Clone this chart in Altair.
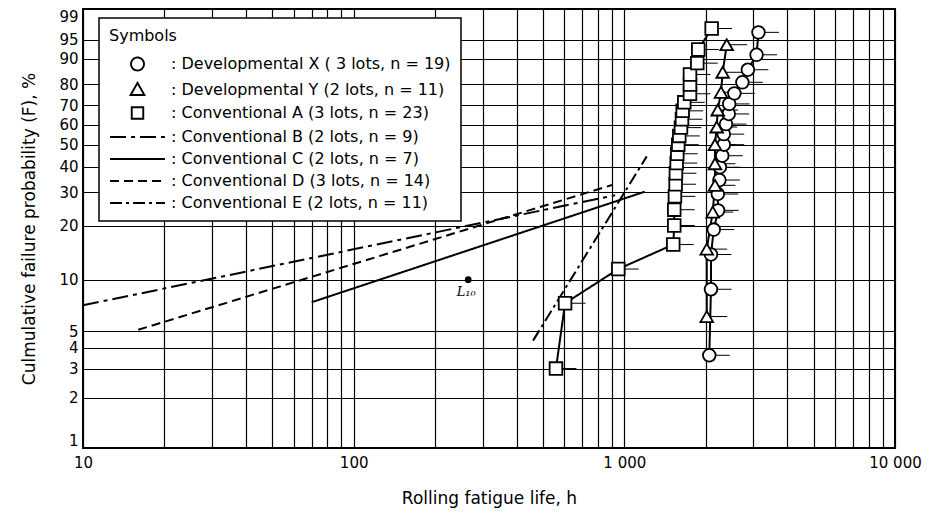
import numpy as np
import pandas as pd
import altair as alt

# ---------------- data ----------------
series_names = [
    "Developmental X ( 3 lots, n = 19)",
    "Developmental Y (2 lots, n = 11)",
    "Conventional A (3 lots, n = 23)",
    "Conventional B (2 lots, n = 9)",
    "Conventional C (2 lots, n = 7)",
    "Conventional D (3 lots, n = 14)",
    "Conventional E (2 lots, n = 11)",
]
point_names = series_names[:3]

# Developmental X (circles)
dev_x_life = [2060, 2090, 2090, 2140, 2220, 2215, 2245, 2255, 2300, 2330, 2330,
              2375, 2430, 2440, 2550, 2730, 2860, 3080, 3130]
dev_x_F = [3.6, 8.8, 13.9, 19.1, 24.2, 29.4, 34.5, 39.7, 44.8, 50.0, 55.2,
           60.3, 65.5, 70.6, 75.8, 80.9, 86.1, 91.2, 96.4]

# Developmental Y (triangles)
dev_y_life = [2016, 2016, 2121, 2162, 2162, 2162, 2194, 2213, 2276, 2309, 2389]
dev_y_F = [6.1, 14.9, 23.7, 32.5, 41.2, 50.0, 58.8, 67.5, 76.3, 85.1, 93.9]

# Conventional A (squares)
conv_a_life = [559, 604, 950, 1516, 1529, 1529, 1538, 1547, 1551, 1561, 1569, 1582,
               1596, 1619, 1633, 1643, 1665, 1748, 1748, 1748, 1860, 1876, 2102]
conv_a_F = [3.0, 7.3, 11.5, 15.8, 20.1, 24.4, 28.6, 32.9, 37.2, 41.5, 45.7, 50.0,
            54.3, 58.5, 62.8, 67.1, 71.4, 75.6, 79.9, 84.2, 88.5, 92.7, 97.0]

# Fitted Weibull lines (end points)
conv_b_life = [10, 925]
conv_b_F = [7.1, 29.0]
conv_c_life = [70, 1190]
conv_c_F = [7.4, 30.2]
conv_d_life = [16, 900]
conv_d_F = [5.1, 32.6]
conv_e_life = [460, 1210]
conv_e_F = [4.4, 44.5]

# L10 marker
l10_life = [265]
l10_F = [10]

# axis ticks
x_tick_values = [10, 20, 30, 40, 50, 60, 70, 80, 90,
                 100, 200, 300, 400, 500, 600, 700, 800, 900,
                 1000, 2000, 3000, 4000, 5000, 6000, 7000, 8000, 9000, 10000]
x_tick_labels = {10: "10", 100: "100", 1000: "1 000", 10000: "10 000"}
y_tick_percent = [1, 2, 3, 4, 5, 10, 20, 30, 40, 50, 60, 70, 80, 90, 95, 99]

# ---------------- styling ----------------
plot_shapes = ["circle", "triangle-up", "square"]
POINT_SIZE = 160
dash_range = [[1, 0], [1, 0], [1, 0], [16, 5, 4, 5], [1, 0], [9, 5], [12, 4, 3, 4]]

# legend sample symbols as paths (1 unit = 9 px at symbol size 324)
legend_paths = [
    "M0.72,0C0.72,0.4,0.4,0.72,0,0.72C-0.4,0.72,-0.72,0.4,-0.72,0"
    "C-0.72,-0.4,-0.4,-0.72,0,-0.72C0.4,-0.72,0.72,-0.4,0.72,0Z",
    "M0,-0.79L0.76,0.55L-0.76,0.55Z",
    "M-0.64,-0.64L0.64,-0.64L0.64,0.64L-0.64,0.64Z",
]
line_path = "M-3.05,0L3.05,0"
LEGEND_SYMBOL_SIZE = 324

FONT = "DejaVu Sans"

# ---------------- tables ----------------
def frame(name, life, F):
    return pd.DataFrame({"series": name, "h": life, "F": F})

points_df = pd.concat([
    frame(series_names[0], dev_x_life, dev_x_F),
    frame(series_names[1], dev_y_life, dev_y_F),
    frame(series_names[2], conv_a_life, conv_a_F),
], ignore_index=True)

lines_df = pd.concat([
    points_df,
    frame(series_names[3], conv_b_life, conv_b_F),
    frame(series_names[4], conv_c_life, conv_c_F),
    frame(series_names[5], conv_d_life, conv_d_F),
    frame(series_names[6], conv_e_life, conv_e_F),
], ignore_index=True)

l10_df = pd.DataFrame({"h": l10_life, "F": l10_F, "label": ["L\u2081\u2080"]})

weibull = "log(-log(1 - datum.F / 100))"
y_tick_values = [float(np.log(-np.log(1 - p / 100.0))) for p in y_tick_percent]
y_domain = [y_tick_values[0], y_tick_values[-1]]

x_label_expr = " : ".join(
    f"datum.value == {v} ? '{lab}'" for v, lab in x_tick_labels.items()) + " : ''"

# per-entry legend symbol: marker shape for X, Y, A; line sample for B..E
shape_expr = "".join(
    f"datum.value === '{n}' ? '{p}' : " for n, p in zip(point_names, legend_paths)
) + f"'{line_path}'"

x_scale = alt.Scale(type="log", domain=[10, 10000], nice=False)
y_scale = alt.Scale(domain=y_domain, nice=False, zero=False)

x_axis = alt.Axis(values=x_tick_values, tickCount=len(x_tick_values),
                  labelExpr=x_label_expr,
                  title="Rolling fatigue life, h", grid=True, ticks=False,
                  labelPadding=7, titlePadding=20, labelFlush=False,
                  labelOverlap=False)
y_axis = alt.Axis(values=y_tick_values, tickCount=len(y_tick_values),
                  labelExpr="format(100 * (1 - exp(-exp(datum.value))), '.0f')",
                  title="Culmulative failure probability (F), %", grid=True,
                  ticks=False, labelPadding=5, titlePadding=20, labelFlush=True,
                  labelOverlap=False)

legend = alt.Legend(
    title="Symbols", orient="none", legendX=16, legendY=9, direction="vertical",
    columns=1, labelExpr="': ' + datum.label", padding=10,
    strokeColor="black", fillColor="white",
    symbolType=alt.ExprRef(expr=shape_expr), symbolSize=LEGEND_SYMBOL_SIZE,
    symbolOffset=18.5, labelOffset=23.5, rowPadding=4,
    symbolStrokeColor="black", symbolFillColor="white", symbolStrokeWidth=1.9,
    symbolOpacity=1,
)

X = alt.X("h:Q", scale=x_scale, axis=x_axis)
Y = alt.Y("W:Q", scale=y_scale, axis=y_axis)

ticks = alt.Chart(points_df).transform_calculate(
    W=weibull, h2="datum.h * 1.19"
).mark_rule(color="black", strokeWidth=1).encode(
    x=X, x2="h2:Q", y=Y
)

lines = alt.Chart(lines_df).transform_calculate(W=weibull).mark_line(
    color="black", strokeWidth=2
).encode(
    x=X, y=Y,
    strokeDash=alt.StrokeDash("series:N",
                              scale=alt.Scale(domain=series_names, range=dash_range),
                              legend=legend),
    order="F:Q",
)

points = alt.Chart(points_df).transform_calculate(W=weibull).mark_point(
    filled=True, fill="white", stroke="black", strokeWidth=1.8,
    size=POINT_SIZE, opacity=1
).encode(
    x=X, y=Y,
    shape=alt.Shape("series:N",
                    scale=alt.Scale(domain=point_names, range=plot_shapes),
                    legend=None),
)

l10_dot = alt.Chart(l10_df).transform_calculate(W=weibull).mark_circle(
    color="black", size=45, opacity=1
).encode(x=X, y=Y)

l10_text = alt.Chart(l10_df).transform_calculate(W=weibull).mark_text(
    font="DejaVu Serif", fontStyle="italic", fontSize=13, dx=-2, dy=12, color="black"
).encode(x=X, y=Y, text="label:N")

chart = alt.layer(ticks, lines, points, l10_dot, l10_text).properties(
    width=812, height=439,
    padding={"left": 75, "top": 1, "right": 28, "bottom": 61},
    autosize=alt.AutoSizeParams(type="none"),
).configure(font=FONT, background="white").configure_view(
    stroke="black", strokeWidth=2
).configure_axis(
    gridColor="black", gridWidth=1.2, gridOpacity=1, domain=False,
    labelFont=FONT, labelFontSize=15, labelColor="black",
    titleFont=FONT, titleFontSize=17, titleFontWeight="normal", titleColor="black",
).configure_legend(
    strokeWidth=1.5,
    titleFont=FONT, titleFontSize=16, titleFontWeight="normal", titleColor="black",
    titlePadding=10,
    labelFont=FONT, labelFontSize=16, labelColor="black", labelLimit=0,
    cornerRadius=0,
)

chart.save("out.html", embed_options={"renderer": "svg", "actions": False})
